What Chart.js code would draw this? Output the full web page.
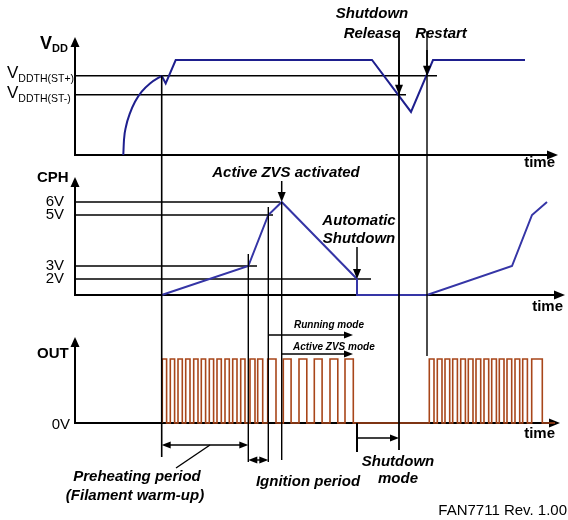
<!DOCTYPE html>
<html><head><meta charset="utf-8">
<script src="https://cdn.jsdelivr.net/npm/chart.js@4.4.1/dist/chart.umd.min.js"></script>
<style>html,body{margin:0;padding:0;background:#fff;} #wrap{position:relative;width:568px;height:520px;}</style>
</head><body><div id="wrap"><canvas id="c" width="568" height="520"></canvas></div>
<script>
// ---------------- DATA (time in arbitrary units from the axis origin) ----------------
// VDD start-up charging curve
const vddChargeT = [48.3, 49, 51, 55, 60, 66.7, 75, 86.7];
const vddChargeV = [0, 2.4, 4.5, 6.6, 8.4, 10.0, 11.3, 12.5];
// VDD after start-up
const vddT = [86.7, 90.7, 100.7, 297, 336, 358, 450];
const vddV = [12.5, 11.3, 15, 15, 6.8, 15, 15];
// VDD thresholds
const vddThresholdV = [12.5, 9.5];
// CPH trace
const cphT = [86.7, 173.3, 193.3, 206.7, 282, 282, 352, 437, 457, 472];
const cphV = [0, 3, 5, 6, 2, 0, 0, 3, 5, 6];
const cphTickValues = [2, 3, 5, 6];
const cphTickLabels = ['2V', '3V', '5V', '6V'];
// OUT gate pulses: rising and falling edge times
const outRise = [87.3, 95.3, 103, 110.7, 118.7, 126.3, 134.3, 142, 150, 157.7, 165.7,
                 175, 182.7,
                 192.7, 208.3, 224, 239.3, 255, 270,
                 354.3, 362.3, 370, 377.7, 385.7, 393.3, 401, 409, 416.7, 424.3, 432, 440, 447.7, 456.7];
const outFall = [91.6, 99.6, 107.3, 115, 123, 130.6, 138.6, 146.3, 154.3, 162, 170,
                 180, 187.7,
                 201, 216.1, 231.8, 247.1, 262.8, 278.3,
                 359, 367, 374.7, 382.4, 390.4, 398, 405.7, 413.7, 421.4, 429, 436.7, 444.7, 452.4, 467.3];
const outEndT = 480;
// event times
const tPreheatStart = 86.7, tPreheatEnd = 173.3, tIgnitionEnd = 193.3, tZvs = 206.7,
      tShutdown = 282, tRelease = 324, tRestart = 352, tModeArrowEnd = 278;

// ---------------- LAYOUT / STYLE ----------------
const W = 568, H = 520, ORIGIN_X = 75;
const FONT = '"Liberation Sans", Arial, Helvetica, sans-serif';
const BLUE1 = '#1e1f8e', BLUE2 = '#3535a6', BROWN = '#a8461a';
const cphWarp = { volts: [0, 2, 3, 5, 6], height: [0, 16, 29, 80, 93] };
function warpValue(v) {
  const a = cphWarp.volts, b = cphWarp.height;
  for (let i = 1; i < a.length; i++) {
    if (v <= a[i] || i === a.length - 1) return b[i-1] + (v - a[i-1]) * (b[i] - b[i-1]) / (a[i] - a[i-1]);
  }
}
function bandRange(v1, px1, v2, px2) {
  const k = (px1 - px2) / (v2 - v1);
  return { min: v1 - (H - px1) / k, max: v1 + px1 / k };
}
const rV = bandRange(0, 155, 15, 60);
const rC = bandRange(0, 295, 93, 202);
const rO = bandRange(0, 423, 1, 359);

class WarpedScale extends Chart.LinearScale {
  static id = 'warped';
  static defaults = Chart.LinearScale.defaults;
  getPixelForValue(value) {
    if (value === null || value === undefined || isNaN(value)) return NaN;
    return super.getPixelForValue(warpValue(value));
  }
}
Chart.register(WarpedScale);

const zip = (xs, ys) => xs.map((x, i) => ({ x, y: ys[i] }));
const outPts = [];
outRise.forEach((r, i) => { outPts.push({x: r, y: 0}, {x: r, y: 1}, {x: outFall[i], y: 1}, {x: outFall[i], y: 0}); });
outPts.push({ x: outEndT, y: 0 });

const axesCfg = [
  { scale: 'yV', tipY: 37, tipX: 558 },
  { scale: 'yC', tipY: 177, tipX: 565 },
  { scale: 'yO', tipY: 337, tipX: 560 }
];
const guides = [
  { scale: 'yV', v: vddThresholdV[0], t1: 362 },
  { scale: 'yV', v: vddThresholdV[1], t1: 331 },
  { scale: 'yC', v: cphTickValues[0], t1: 296 },
  { scale: 'yC', v: cphTickValues[1], t1: 182 },
  { scale: 'yC', v: cphTickValues[2], t1: 198 },
  { scale: 'yC', v: cphTickValues[3], t1: 205 }
];
const markers = [
  { t: tPreheatStart, from: ['yV', vddThresholdV[0]], to: 457, w: 1.6 },
  { t: tPreheatEnd, from: 254, to: 462, w: 1.4 },
  { t: tIgnitionEnd, from: 207, to: 462, w: 1.4 },
  { t: tZvs, from: ['yC', 6], to: 460, w: 1.4 },
  { t: tShutdown, from: ['yO', 0], to: 452, w: 2 },
  { t: tRelease, from: 31, to: 450, w: 1.8 },
  { t: tRestart, from: 31, to: 356, w: 1.4 }
];
const downArrows = [
  { t: tZvs, from: 181, tip: ['yC', 6] },
  { t: tShutdown, from: 247, tip: ['yC', 2] },
  { t: tRelease, from: 60, tip: ['yV', vddThresholdV[1]] },
  { t: tRestart, from: 50, tip: ['yV', vddThresholdV[0]] }
];
const hArrows = [
  { t0: tPreheatStart, t1: tPreheatEnd, y: 445, both: true },
  { t0: tPreheatEnd, t1: tIgnitionEnd, y: 460, both: true },
  { t0: tIgnitionEnd, t1: tModeArrowEnd, y: 335, both: false },
  { t0: tZvs, t1: tModeArrowEnd, y: 354, both: false },
  { t0: tShutdown, t1: tRelease, y: 438, both: false }
];
const BI15 = `italic bold 15px ${FONT}`, BI10 = `italic bold 10px ${FONT}`;
const texts = [
  { s: 'CPH', x: 37, y: 182, font: `bold 15px ${FONT}`, a: 'left' },
  { s: 'OUT', x: 37, y: 358, font: `bold 15px ${FONT}`, a: 'left' },
  { s: '0V', x: 70, y: 429, font: `15px ${FONT}`, a: 'right' },
  { s: 'time', x: 555, y: 167, font: `bold 15px ${FONT}`, a: 'right' },
  { s: 'time', x: 563, y: 311, font: `bold 15px ${FONT}`, a: 'right' },
  { s: 'time', x: 555, y: 438, font: `bold 15px ${FONT}`, a: 'right' },
  { s: 'Active ZVS activated', x: 286, y: 177, font: BI15, a: 'center' },
  { s: 'Automatic', x: 359, y: 225, font: BI15, a: 'center' },
  { s: 'Shutdown', x: 359, y: 243, font: BI15, a: 'center' },
  { s: 'Shutdown', x: 372, y: 18, font: BI15, a: 'center' },
  { s: 'Release', x: 372, y: 38, font: BI15, a: 'center' },
  { s: 'Restart', x: 441, y: 38, font: BI15, a: 'center' },
  { s: 'Running mode', x: 294, y: 328, font: BI10, a: 'left' },
  { s: 'Active ZVS mode', x: 293, y: 350, font: BI10, a: 'left' },
  { s: 'Preheating period', x: 137, y: 481, font: BI15, a: 'center' },
  { s: '(Filament warm-up)', x: 135, y: 500, font: BI15, a: 'center' },
  { s: 'Ignition period', x: 308, y: 486, font: BI15, a: 'center' },
  { s: 'Shutdown', x: 398, y: 466, font: BI15, a: 'center' },
  { s: 'mode', x: 398, y: 483, font: BI15, a: 'center' },
  { s: 'FAN7711 Rev. 1.00', x: 567, y: 515, font: `15px ${FONT}`, a: 'right' }
];
const subLabels = [
  { main: 'V', sub: 'DD', x: 40, y: 49, mainFont: `bold 18px ${FONT}`, subFont: `bold 11px ${FONT}`, dy: 3 },
  { main: 'V', sub: 'DDTH(ST+)', x: 7, y: 78, mainFont: `17px ${FONT}`, subFont: `10.5px ${FONT}`, dy: 4 },
  { main: 'V', sub: 'DDTH(ST-)', x: 7, y: 98, mainFont: `17px ${FONT}`, subFont: `10.5px ${FONT}`, dy: 4 }
];

function yOf(chart, spec) { return Array.isArray(spec) ? chart.scales[spec[0]].getPixelForValue(spec[1]) : spec; }
function tri(ctx, x, y, dir, len, hw) {
  ctx.beginPath();
  if (dir === 'up') { ctx.moveTo(x, y); ctx.lineTo(x - hw, y + len); ctx.lineTo(x + hw, y + len); }
  if (dir === 'down') { ctx.moveTo(x, y); ctx.lineTo(x - hw, y - len); ctx.lineTo(x + hw, y - len); }
  if (dir === 'right') { ctx.moveTo(x, y); ctx.lineTo(x - len, y - hw); ctx.lineTo(x - len, y + hw); }
  if (dir === 'left') { ctx.moveTo(x, y); ctx.lineTo(x + len, y - hw); ctx.lineTo(x + len, y + hw); }
  ctx.closePath(); ctx.fill();
}
function seg(ctx, x0, y0, x1, y1, w) {
  ctx.lineWidth = w; ctx.beginPath(); ctx.moveTo(x0, y0); ctx.lineTo(x1, y1); ctx.stroke();
}

const diagram = {
  id: 'diagram',
  beforeDatasetsDraw(chart) {
    const ctx = chart.ctx, xs = chart.scales.x;
    ctx.save();
    ctx.strokeStyle = '#000'; ctx.fillStyle = '#000';
    const x0 = xs.getPixelForValue(0);
    guides.forEach(g => {
      const y = chart.scales[g.scale].getPixelForValue(g.v);
      seg(ctx, x0, y, xs.getPixelForValue(g.t1), y, 1.5);
    });
    axesCfg.forEach(a => {
      const yb = chart.scales[a.scale].getPixelForValue(0);
      seg(ctx, x0, yb + 1, x0, a.tipY + 8, 2);
      tri(ctx, x0, a.tipY, 'up', 10, 4.5);
      seg(ctx, x0 - 1, yb, a.tipX - 8, yb, 2);
      tri(ctx, a.tipX, yb, 'right', 11, 4.5);
    });
    ctx.restore();
  },
  afterDatasetsDraw(chart) {
    const ctx = chart.ctx, xs = chart.scales.x;
    ctx.save();
    ctx.strokeStyle = '#000'; ctx.fillStyle = '#000';
    markers.forEach(m => {
      const x = xs.getPixelForValue(m.t);
      seg(ctx, x, yOf(chart, m.from), x, yOf(chart, m.to), m.w);
    });
    downArrows.forEach(d => {
      const x = xs.getPixelForValue(d.t), tip = yOf(chart, d.tip);
      seg(ctx, x, d.from, x, tip - 8, 1.5);
      tri(ctx, x, tip, 'down', 10, 4);
    });
    hArrows.forEach(h => {
      const a = xs.getPixelForValue(h.t0), b = xs.getPixelForValue(h.t1);
      seg(ctx, h.both ? a + 6 : a, h.y, b - 6, h.y, 1.4);
      tri(ctx, b, h.y, 'right', 9, 3.5);
      if (h.both) tri(ctx, a, h.y, 'left', 9, 3.5);
    });
    seg(ctx, 210, 445, 176, 468, 1.4);
    ctx.font = `15px ${FONT}`; ctx.textAlign = 'right'; ctx.textBaseline = 'alphabetic';
    cphTickValues.forEach((v, i) => {
      ctx.fillText(cphTickLabels[i], 64, chart.scales.yC.getPixelForValue(v) + 4);
    });
    texts.forEach(t => { ctx.font = t.font; ctx.textAlign = t.a; ctx.fillText(t.s, t.x, t.y); });
    ctx.textAlign = 'left';
    subLabels.forEach(l => {
      ctx.font = l.mainFont; ctx.fillText(l.main, l.x, l.y);
      const w = ctx.measureText(l.main).width;
      ctx.font = l.subFont; ctx.fillText(l.sub, l.x + w, l.y + l.dy);
    });
    ctx.restore();
  }
};

const line = (data, axis, color, extra) => Object.assign({
  data, yAxisID: axis, borderColor: color, borderWidth: 2, pointRadius: 0,
  fill: false, tension: 0, borderJoinStyle: 'miter', clip: false
}, extra || {});

new Chart(document.getElementById('c'), {
  type: 'line',
  data: {
    datasets: [
      line(zip(vddChargeT, vddChargeV), 'yV', BLUE1, { cubicInterpolationMode: 'monotone' }),
      line(zip(vddT, vddV), 'yV', BLUE1),
      line(zip(cphT, cphV), 'yC', BLUE2),
      line(outPts, 'yO', BROWN, { borderWidth: 1.6 })
    ]
  },
  options: {
    responsive: false, animation: false, events: [],
    layout: { padding: { left: ORIGIN_X, right: 0, top: 0, bottom: 0 } },
    plugins: { legend: { display: false }, tooltip: { enabled: false } },
    scales: {
      x: { type: 'linear', min: 0, max: W - ORIGIN_X, display: false },
      yV: { type: 'linear', axis: 'y', position: 'left', display: false, min: rV.min, max: rV.max },
      yC: { type: 'warped', axis: 'y', position: 'left', display: false, min: rC.min, max: rC.max },
      yO: { type: 'linear', axis: 'y', position: 'left', display: false, min: rO.min, max: rO.max }
    }
  },
  plugins: [diagram]
});
</script></body></html>
